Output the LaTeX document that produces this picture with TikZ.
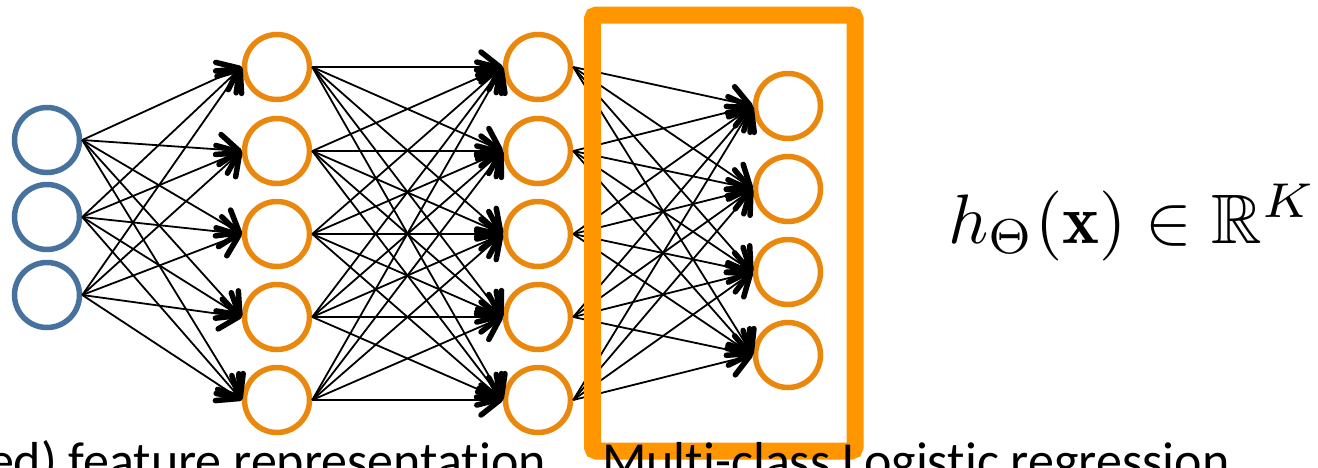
\documentclass[tikz,border=0pt]{standalone}
\usepackage{graphicx}
\usepackage{amssymb}
\usepackage{fontspec}
\newfontfamily\calibri[Ligatures=NoCommon]{Carlito}
\usetikzlibrary{arrows.meta}
\definecolor{inblue}{RGB}{72,114,158}
\definecolor{nodeorange}{RGB}{234,136,14}
\definecolor{boxorange}{RGB}{255,150,0}
\tikzset{
  neuron/.style={circle, draw, line width=5.5pt, minimum size=65pt, inner sep=0pt},
  inneuron/.style={neuron, draw=inblue},
  hidneuron/.style={neuron, draw=nodeorange},
  conn/.style={line width=1.8pt, -{Straight Barb[length=19pt,width=30pt,line width=5.5pt,round]}},
  lbl/.style={font=\calibri\fontsize{52}{60}\selectfont, inner sep=0pt}
}
\begin{document}
\begin{tikzpicture}[x=1pt,y=-1pt]
\useasboundingbox (0,0) rectangle (1318,467);
% input layer
\foreach \i/\y in {1/140,2/217,3/295} \node[inneuron] (a\i) at (47,\y) {};
% hidden layer 1
\foreach \i/\y in {1/67,2/151,3/234,4/317,5/400} \node[hidneuron] (b\i) at (277,\y) {};
% hidden layer 2
\foreach \i/\y in {1/67,2/151,3/234,4/317,5/400} \node[hidneuron] (c\i) at (538,\y) {};
% output layer
\foreach \i/\y in {1/106,2/189,3/272,4/355} \node[hidneuron] (d\i) at (788,\y) {};
% connections
\foreach \i in {1,2,3} \foreach \j in {1,...,5} \draw[conn] (a\i.east) -- (b\j.west);
\foreach \i in {1,...,5} \foreach \j in {1,...,5} \draw[conn] (b\i.east) -- (c\j.west);
\foreach \i in {1,...,5} \foreach \j in {1,...,4} \draw[conn] (c\i.east) -- (d\j.west);
% box
\draw[boxorange, line width=17pt, rounded corners=4pt] (592.5,15) rectangle (855,451);
% formula
\node[inner sep=0pt, anchor=base west] (h) at (948,243) {\scalebox{7}{$h_\Theta(\mathbf{x}) \in \mathbb{R}^K$}};
% labels
\node[lbl, anchor=base east] (t1) at (546,478) {ed) feature representation};
\node[lbl, anchor=base west] (t2) at (602,478) {Multi-class Logistic regression};
\end{tikzpicture}
\end{document}
